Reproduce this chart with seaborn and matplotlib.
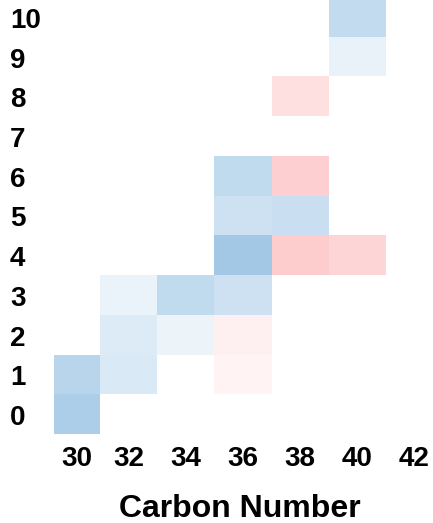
import numpy as np
import pandas as pd
import matplotlib
matplotlib.use("Agg")
import matplotlib.pyplot as plt
from matplotlib.colors import LinearSegmentedColormap
from matplotlib.transforms import ScaledTranslation
import seaborn as sns

# Carbon number (columns) and double-bond count (rows)
carbon_numbers = [30, 32, 34, 36, 38, 40, 42]
double_bonds = [10, 9, 8, 7, 6, 5, 4, 3, 2, 1, 0]

# Relative change per (double bonds, carbon number); negative = blue, positive = red
cells_db = [10, 9, 8, 6, 6, 5, 5, 4, 4, 4, 3, 3, 3, 2, 2, 2, 1, 1, 1, 0]
cells_cn = [40, 40, 38, 36, 38, 36, 38, 36, 38, 40, 32, 34, 36, 32, 34, 36, 30, 32, 36, 30]
cells_val = [-0.27, -0.10, 0.17, -0.28, 0.26, -0.22, -0.24, -0.41, 0.28, 0.23,
             -0.09, -0.28, -0.22, -0.15, -0.08, 0.08, -0.32, -0.17, 0.07, -0.36]

long = pd.DataFrame({"db": cells_db, "cn": cells_cn, "val": cells_val})
grid = (long.pivot(index="db", columns="cn", values="val")
        .reindex(index=double_bonds, columns=carbon_numbers))

cmap = LinearSegmentedColormap.from_list("bwr_soft", ["#1e7ac3", "#ffffff", "#f8494d"])

W, H = 433, 523
fig = plt.figure(figsize=(W / 100, H / 100), dpi=100)
# axes spans a little beyond the canvas; first column partly hidden
left_px, right_px, top_px, bottom_px = 54, 443, -3, 434
ax = fig.add_axes([left_px / W, 1 - bottom_px / H,
                   (right_px - left_px) / W, (bottom_px - top_px) / H])

sns.heatmap(grid, cmap=cmap, vmin=-1, vmax=1, cbar=False, ax=ax,
            linewidths=0, square=False)

col_w = 57.0
x0 = 11 / col_w  # hidden part of first column
ax.set_xlim(x0, len(carbon_numbers))
ax.set_ylim(len(double_bonds), 0)

font = dict(fontsize=20, fontweight="bold", family="Liberation Sans")
xt = [(x0 + 1) / 2] + [i + 0.5 for i in range(1, len(carbon_numbers))]
ax.set_xticks(xt)
ax.set_xticklabels([str(c) for c in carbon_numbers], rotation=0, **font)
ax.set_yticks([i + 0.5 for i in range(len(double_bonds))])
ax.set_yticklabels([str(d) for d in double_bonds], rotation=0, ha="left", **font)
ax.tick_params(axis="both", length=0)
ax.tick_params(axis="x", pad=9)
ax.tick_params(axis="y", pad=(left_px - 10) * 72 / 100)

# row labels sit slightly below the row centres
shift = ScaledTranslation(0, -4 / 100, fig.dpi_scale_trans)
for lab in ax.get_yticklabels():
    lab.set_transform(lab.get_transform() + shift)

ax.set_xlabel("Carbon Number", fontsize=23, fontweight="bold",
              family="Liberation Sans", labelpad=15.5,
              x=(240 - left_px) / (right_px - left_px))
ax.set_ylabel("")
for s in ax.spines.values():
    s.set_visible(False)

fig.savefig("out.png", dpi=100)
